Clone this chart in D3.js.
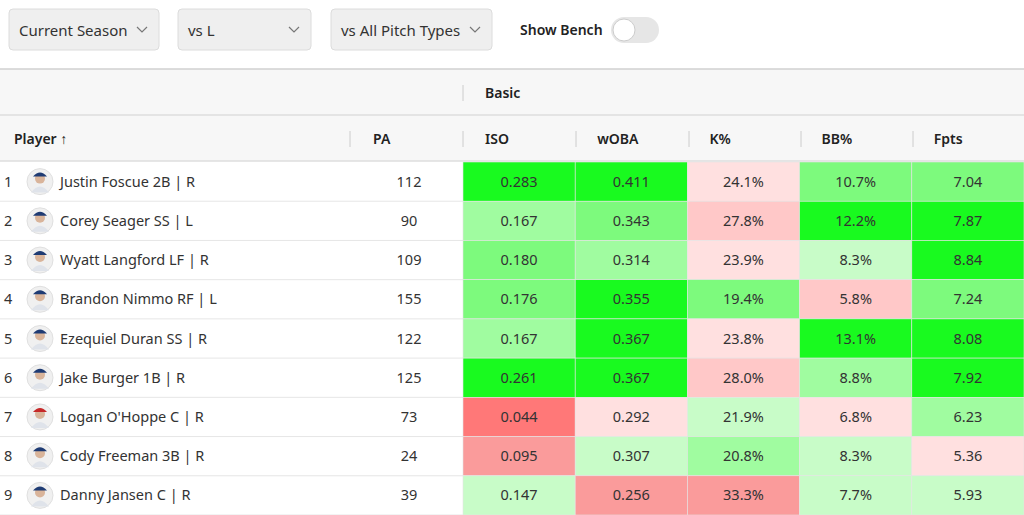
<!DOCTYPE html><html><head><meta charset="utf-8">
<script src="https://cdn.jsdelivr.net/npm/d3@7"></script>
<style>body{margin:0;background:#fff;font-family:"Noto Sans","Open Sans",sans-serif}</style></head><body>
<svg id="c" width="1024" height="515"></svg>
<script>
const players=["Justin Foscue 2B | R","Corey Seager SS | L","Wyatt Langford LF | R","Brandon Nimmo RF | L","Ezequiel Duran SS | R","Jake Burger 1B | R","Logan O'Hoppe C | R","Cody Freeman 3B | R","Danny Jansen C | R"];
const pa=[112,90,109,155,122,125,73,24,39];
const iso=["0.283","0.167","0.180","0.176","0.167","0.261","0.044","0.095","0.147"];
const woba=["0.411","0.343","0.314","0.355","0.367","0.367","0.292","0.307","0.256"];
const kpct=["24.1%","27.8%","23.9%","19.4%","23.8%","28.0%","21.9%","20.8%","33.3%"];
const bbpct=["10.7%","12.2%","8.3%","5.8%","13.1%","8.8%","6.8%","8.3%","7.7%"];
const fpts=["7.04","7.87","8.84","7.24","8.08","7.92","6.23","5.36","5.93"];
// colour tier per cell (+3 strong green ... -3 strong red)
const isoT=[3,1,2,2,1,3,-3,-2,0], wobaT=[3,2,1,3,3,3,-1,0,-2], kT=[-1,-2,-1,2,-1,-2,0,1,-3], bbT=[2,3,0,-2,3,1,-1,0,0], fT=[2,3,3,2,3,3,1,-1,0];
const columns=["ISO","wOBA","K%","BB%","Fpts"];
const filters=["Current Season","vs L","vs All Pitch Types"];

const svg=d3.select("#c");
const tierColor=d3.scaleOrdinal().domain([3,2,1,0,-1,-2,-3]).range(["#19fa1f","#7dfa7d","#a0fca0","#c8fcc8","#ffe0e0","#ffc8c8","#fa9b9b","#ff7878"]);
tierColor.domain([3,2,1,0,-1,-2,-3]).range(["#19fa1f","#7dfa7d","#a0fca0","#c8fcc8","#ffe0e0","#fa9b9b","#ff7878"]);
// fix: -1 light pink, -2 pink, -3 salmon(row9 K/wOBA), strongest red for ISO row7
const col=t=>({3:"#19fa1f",2:"#7dfa7d",1:"#a0fca0",0:"#c8fcc8","-1":"#ffe0e0","-2":"#ffc8c8","-3":"#fa9b9b","-4":"#ff7878"})[t];
const isoT2=isoT.map(t=>t==-3?-4:t==-2?-3:t), wobaT2=wobaT.map(t=>t==-2?-3:t), kT2=kT.map(t=>t==-3?-3:t);

// filters
const fx=[[9,150],[178,133],[331,161]];
filters.forEach((f,i)=>{
  const g=svg.append("g").attr("transform",`translate(${fx[i][0]},9)`);
  g.append("rect").attr("width",fx[i][1]).attr("height",41).attr("rx",4).attr("fill","#efefef").attr("stroke","#dcdcdc");
  g.append("text").attr("x",10).attr("y",27).attr("font-size",15).attr("fill","#333").text(f);
  const cx=fx[i][1]-17;
  g.append("path").attr("d",`M${cx-5},18 L${cx},23 L${cx+5},18`).attr("fill","none").attr("stroke","#777").attr("stroke-width",1.2);
});
svg.append("text").attr("x",520).attr("y",35).attr("font-size",14).attr("font-weight",600).attr("fill","#222").text("Show Bench");
svg.append("rect").attr("x",611).attr("y",17).attr("width",48).attr("height",26).attr("rx",13).attr("fill","#e6e6e6");
svg.append("circle").attr("cx",624).attr("cy",30).attr("r",11).attr("fill","#fff").attr("stroke","#ccc");

// header
svg.append("rect").attr("x",0).attr("y",69).attr("width",1024).attr("height",92).attr("fill","#f7f7f7");
[69,115,161].forEach(y=>svg.append("line").attr("x1",0).attr("x2",1024).attr("y1",y).attr("y2",y).attr("stroke",y==69?"#d0d0d0":"#dedede").attr("stroke-width",1.5));
svg.append("line").attr("x1",463).attr("x2",463).attr("y1",85).attr("y2",101).attr("stroke","#ccc");
svg.append("text").attr("x",485).attr("y",98).attr("font-size",14).attr("font-weight",600).attr("fill","#222").text("Basic");
const x=d3.scaleLinear().domain([0,5]).range([463,1024]);
const cw=x(1)-x(0);
svg.append("text").attr("x",14).attr("y",144).attr("font-size",14).attr("font-weight",600).attr("fill","#222").text("Player  ↑");
svg.append("text").attr("x",373).attr("y",144).attr("font-size",14).attr("font-weight",600).attr("fill","#222").text("PA");
columns.forEach((c,i)=>svg.append("text").attr("x",x(i)+22).attr("y",144).attr("font-size",14).attr("font-weight",600).attr("fill","#222").text(c));
[350,463,576,689,801,913].forEach(v=>svg.append("line").attr("x1",v).attr("x2",v).attr("y1",131).attr("y2",147).attr("stroke","#ccc"));

// rows
const y=d3.scaleBand().domain(d3.range(9)).range([162,515]);
const vals=[iso,woba,kpct,bbpct,fpts], tiers=[isoT2,wobaT2,kT2,bbT,fT];
players.forEach((p,r)=>{
  const y0=y(r),h=y.bandwidth(),cy=y0+h/2;
  vals.forEach((v,i)=>{
    svg.append("rect").attr("x",x(i)).attr("y",y0).attr("width",cw).attr("height",h).attr("fill",col(tiers[i][r])).attr("stroke","#e4e4e4").attr("stroke-width",0.6);
    svg.append("text").attr("x",x(i)+cw/2).attr("y",cy+5).attr("text-anchor","middle").attr("font-size",14.5).attr("fill","#333").text(v[r]);
  });
  svg.append("line").attr("x1",0).attr("x2",463).attr("y1",y0+h).attr("y2",y0+h).attr("stroke","#e6e6e6");
  svg.append("text").attr("x",4).attr("y",cy+5).attr("font-size",14.5).attr("fill","#333").text(r+1);
  svg.append("circle").attr("cx",40).attr("cy",cy).attr("r",13).attr("fill","#f0f0f0").attr("stroke","#e0e0e0");
  svg.append("circle").attr("cx",40).attr("cy",cy-3).attr("r",5).attr("fill","#d9b49a");
  svg.append("path").attr("d",`M${33},${cy-5} q7,-8 14,0 z`).attr("fill",r==6?"#c62828":"#1f3b73");
  svg.append("path").attr("d",`M${31},${cy+11} q9,-12 18,0 z`).attr("fill","#dfe3ea");
  svg.append("text").attr("x",60).attr("y",cy+5).attr("font-size",14.5).attr("fill","#333").text(p);
  svg.append("text").attr("x",409).attr("y",cy+5).attr("text-anchor","middle").attr("font-size",14.5).attr("fill","#333").text(pa[r]);
});
</script></body></html>
